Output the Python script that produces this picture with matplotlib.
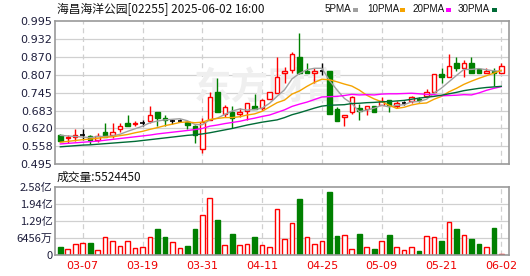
import matplotlib
matplotlib.use('Agg')
import matplotlib.pyplot as plt
from matplotlib.patches import Rectangle

plt.rcParams['font.family'] = ['Noto Sans CJK SC', 'DejaVu Sans']

title = '海昌海洋公园[02255] 2025-06-02 16:00'
dates = ['03-04', '03-05', '03-06', '03-07', '03-10', '03-11', '03-12', '03-13', '03-14',
         '03-17', '03-18', '03-19', '03-20', '03-21', '03-24', '03-25', '03-26', '03-27', '03-28',
         '03-31', '04-01', '04-02', '04-03', '04-07', '04-08', '04-09', '04-10', '04-11',
         '04-14', '04-15', '04-16', '04-17', '04-22', '04-23', '04-24', '04-25',
         '04-28', '04-29', '04-30', '05-02', '05-06', '05-07', '05-08', '05-09',
         '05-12', '05-13', '05-14', '05-15', '05-16', '05-19', '05-20', '05-21', '05-22', '05-23',
         '05-26', '05-27', '05-28', '05-29', '05-30', '06-02']
shown_dates = ['03-07', '03-19', '03-31', '04-11', '04-25', '05-09', '05-21', '06-02']

opens = [0.597, 0.588, 0.589, 0.596, 0.594, 0.580, 0.607, 0.597, 0.619, 0.638,
         0.637, 0.638, 0.647, 0.677, 0.657, 0.647, 0.647, 0.643, 0.629, 0.547,
         0.650, 0.748, 0.669, 0.676, 0.669, 0.682, 0.698, 0.690, 0.722, 0.745,
         0.813, 0.824, 0.870, 0.822, 0.813, 0.822, 0.822, 0.687, 0.659, 0.679,
         0.690, 0.689, 0.698, 0.701, 0.719, 0.698, 0.708, 0.716, 0.723, 0.733,
         0.748, 0.810, 0.801, 0.847, 0.832, 0.847, 0.826, 0.813, 0.822, 0.813]
highs = [0.599, 0.597, 0.617, 0.617, 0.596, 0.605, 0.638, 0.638, 0.640, 0.666,
         0.646, 0.649, 0.698, 0.677, 0.667, 0.654, 0.652, 0.645, 0.632, 0.655,
         0.748, 0.795, 0.701, 0.698, 0.690, 0.710, 0.740, 0.724, 0.746, 0.870,
         0.833, 0.888, 0.954, 0.847, 0.830, 0.847, 0.822, 0.696, 0.667, 0.733,
         0.705, 0.698, 0.698, 0.731, 0.719, 0.717, 0.717, 0.733, 0.729, 0.757,
         0.809, 0.830, 0.880, 0.868, 0.859, 0.868, 0.826, 0.830, 0.830, 0.850]
lows = [0.575, 0.570, 0.577, 0.580, 0.566, 0.574, 0.589, 0.586, 0.609, 0.629,
        0.629, 0.627, 0.638, 0.629, 0.629, 0.637, 0.642, 0.619, 0.568, 0.536,
        0.650, 0.679, 0.661, 0.621, 0.661, 0.650, 0.689, 0.685, 0.722, 0.745,
        0.780, 0.813, 0.810, 0.813, 0.778, 0.807, 0.669, 0.647, 0.629, 0.669,
        0.650, 0.667, 0.679, 0.701, 0.679, 0.690, 0.701, 0.708, 0.714, 0.729,
        0.748, 0.778, 0.801, 0.822, 0.801, 0.813, 0.813, 0.813, 0.768, 0.813]
closes = [0.578, 0.590, 0.597, 0.596, 0.581, 0.594, 0.591, 0.607, 0.629, 0.629,
          0.639, 0.638, 0.666, 0.658, 0.650, 0.647, 0.647, 0.631, 0.597, 0.644,
          0.729, 0.679, 0.696, 0.658, 0.679, 0.708, 0.689, 0.719, 0.746, 0.799,
          0.821, 0.880, 0.813, 0.813, 0.822, 0.822, 0.669, 0.647, 0.667, 0.729,
          0.681, 0.698, 0.679, 0.717, 0.702, 0.708, 0.708, 0.729, 0.721, 0.746,
          0.809, 0.801, 0.839, 0.832, 0.847, 0.813, 0.813, 0.821, 0.813, 0.839]

ma5 = [0.596, 0.594, 0.592, 0.590, 0.588, 0.592, 0.592, 0.594, 0.600, 0.610,
       0.619, 0.628, 0.640, 0.646, 0.650, 0.652, 0.654, 0.647, 0.634, 0.633,
       0.650, 0.656, 0.669, 0.681, 0.688, 0.684, 0.686, 0.691, 0.708, 0.732,
       0.755, 0.793, 0.812, 0.825, 0.830, 0.830, 0.788, 0.755, 0.725, 0.707,
       0.679, 0.684, 0.691, 0.701, 0.695, 0.701, 0.703, 0.713, 0.714, 0.722,
       0.743, 0.761, 0.783, 0.805, 0.826, 0.826, 0.829, 0.825, 0.821, 0.820]
ma10 = [0.572, 0.575, 0.578, 0.581, 0.583, 0.586, 0.589, 0.591, 0.595, 0.599,
        0.605, 0.610, 0.617, 0.623, 0.630, 0.635, 0.641, 0.643, 0.640, 0.642,
        0.651, 0.655, 0.658, 0.658, 0.661, 0.667, 0.671, 0.680, 0.695, 0.710,
        0.719, 0.740, 0.751, 0.767, 0.781, 0.792, 0.790, 0.783, 0.775, 0.768,
        0.754, 0.736, 0.723, 0.713, 0.701, 0.690, 0.694, 0.702, 0.707, 0.709,
        0.722, 0.732, 0.748, 0.760, 0.774, 0.785, 0.795, 0.804, 0.813, 0.823]
ma20 = [0.566, 0.568, 0.570, 0.572, 0.574, 0.576, 0.579, 0.582, 0.585, 0.588,
        0.591, 0.594, 0.597, 0.601, 0.604, 0.607, 0.610, 0.613, 0.616, 0.620,
        0.628, 0.632, 0.637, 0.641, 0.645, 0.651, 0.656, 0.662, 0.667, 0.676,
        0.685, 0.697, 0.705, 0.712, 0.721, 0.730, 0.731, 0.732, 0.735, 0.739,
        0.737, 0.738, 0.737, 0.740, 0.741, 0.741, 0.742, 0.743, 0.741, 0.739,
        0.738, 0.734, 0.735, 0.736, 0.738, 0.737, 0.744, 0.753, 0.760, 0.766]
ma30 = [0.556, 0.558, 0.560, 0.562, 0.563, 0.565, 0.567, 0.569, 0.571, 0.573,
        0.575, 0.578, 0.581, 0.584, 0.587, 0.590, 0.593, 0.596, 0.598, 0.601,
        0.605, 0.610, 0.615, 0.620, 0.626, 0.632, 0.637, 0.642, 0.646, 0.650,
        0.658, 0.668, 0.675, 0.683, 0.691, 0.698, 0.701, 0.702, 0.703, 0.707,
        0.708, 0.710, 0.711, 0.713, 0.714, 0.716, 0.718, 0.722, 0.726, 0.729,
        0.732, 0.736, 0.741, 0.746, 0.752, 0.756, 0.760, 0.763, 0.765, 0.767]

volumes = [33e6, 22e6, 41e6, 45e6, 48e6, 19e6, 70e6, 55e6, 34e6, 55e6,
           26e6, 30e6, 67e6, 100e6, 70e6, 49e6, 26e6, 34e6, 100e6, 150e6,
           215e6, 131e6, 37e6, 79e6, 37e6, 41e6, 67e6, 37e6, 33e6, 175e6,
           60e6, 122e6, 212e6, 70e6, 44e6, 52e6, 239e6, 72e6, 78e6, 22e6,
           79e6, 30e6, 23e6, 52e6, 75e6, 30e6, 19e6, 33e6, 16e6, 74e6,
           67e6, 53e6, 126e6, 97e6, 78e6, 60e6, 42e6, 33e6, 104e6, 5524450]
vol_up = [0, 1, 1, 1, 0, 1, 1, 1, 1, 1, 1, 1, 1, 0, 0, 1, 1, 0, 0, 1,
          1, 0, 1, 0, 1, 1, 0, 1, 1, 1, 1, 1, 0, 1, 1, 1, 0, 0, 1, 1,
          0, 1, 0, 1, 0, 1, 1, 1, 0, 1, 1, 0, 1, 0, 1, 0, 0, 1, 0, 1]

price_ticks = [0.495, 0.5575, 0.62, 0.6825, 0.745, 0.8075, 0.87, 0.9325, 0.995]
price_labels = ['0.495', '0.558', '0.620', '0.683', '0.745', '0.807', '0.870', '0.932', '0.995']
vol_ticks = [0, 64.56e6, 129.12e6, 193.68e6, 258.24e6]
vol_labels = ['0', '6456万', '1.29亿', '1.94亿', '2.58亿']
ma_names = ['5PMA', '10PMA', '20PMA', '30PMA']
vol_text = '成交量:5524450'

RED = '#ff0000'
GREEN = '#008000'
MA_COLORS = ['#a0a0a0', '#f5a300', '#ff00ff', '#006b36']
FRAME = '#999999'
GRID = '#d0d0d0'
TXT = '#1e1e3c'

W, H = 530, 276
fig = plt.figure(figsize=(W / 100, H / 100), dpi=100)
fig.patch.set_facecolor('white')

def fx(px):
    return px / W

def fy(py):
    return 1 - py / H

ax = fig.add_axes([fx(55.3), fy(164.3), fx(509) - fx(55.3), fy(21) - fy(164.3)])
axv = fig.add_axes([fx(55.3), fy(255.3), fx(509) - fx(55.3), fy(186.5) - fy(255.3)])

xs = list(range(len(dates)))
xt = [dates.index(d) for d in shown_dates]

for a in (ax, axv):
    a.set_xlim(-0.67, 60.03)
    for s in a.spines.values():
        s.set_color(FRAME)
        s.set_linewidth(1.2)
    a.tick_params(length=0, pad=2)
    a.set_xticks(xt)
    for x in xt:
        a.axvline(x, color=GRID, lw=0.9, ls=(0, (4, 3)), zorder=0)

# price axis
ax.set_ylim(0.495, 0.995)
ax.set_yticks(price_ticks)
ax.set_yticklabels(price_labels, fontsize=8, color=TXT, family=['DejaVu Sans'])
ax.set_xticklabels([])
for t in price_ticks[1:-1]:
    ax.axhline(t, color=GRID, lw=0.9, zorder=0)

ax.text(0.47, 0.53, '东方财富', transform=ax.transAxes, fontsize=27, color='#efefef',
        ha='center', va='center', fontweight='bold', style='italic', zorder=0)

bw = 0.6
for i in xs:
    o, h, l, c = opens[i], highs[i], lows[i], closes[i]
    if c > o:
        col, fc = RED, 'white'
    elif c < o:
        col, fc = GREEN, GREEN
    else:
        col, fc = 'black', 'black'
    ax.vlines(i, l, h, color=col, lw=1.0, zorder=2)
    if c == o:
        ax.hlines(c, i - bw / 2, i + bw / 2, color=col, lw=1.2, zorder=3)
    else:
        ax.add_patch(Rectangle((i - bw / 2, min(o, c)), bw, abs(c - o),
                               facecolor=fc, edgecolor=col, lw=1.0, zorder=3))

for ma, col in zip([ma5, ma10, ma20, ma30], MA_COLORS):
    ax.plot(xs, ma, color=col, lw=1.0, zorder=4)

# volume axis
axv.set_ylim(0, 258.24e6)
axv.set_yticks(vol_ticks)
axv.set_yticklabels(vol_labels, fontsize=8, color=TXT)
axv.set_xticklabels(shown_dates, fontsize=8, color='#ee0000', family=['DejaVu Sans'])
axv.tick_params(axis='x', pad=4)
for t in vol_ticks[1:-1]:
    axv.axhline(t, color=GRID, lw=0.9, zorder=0)
for i in xs:
    if vol_up[i]:
        axv.bar(i, volumes[i], width=0.62, facecolor='white', edgecolor=RED, lw=1.0, zorder=2)
    else:
        axv.bar(i, volumes[i], width=0.62, facecolor=GREEN, edgecolor=GREEN, lw=1.0, zorder=2)

# header texts
fig.text(fx(57), fy(9.5), title, fontsize=8.5, color='#111111', va='center', ha='left')
fig.text(fx(57), fy(177), vol_text, fontsize=8.5, color='#111111', va='center', ha='left')

legend_x = [325, 367, 412.5, 458]
square_x = [352.5, 399.5, 445.5, 491.5]
for name, lx, sx, col in zip(ma_names, legend_x, square_x, MA_COLORS):
    fig.text(fx(lx), fy(9.5), name, fontsize=7.1, color='#111111', va='center', ha='left',
             family=['Liberation Sans'])
    fig.patches.append(Rectangle((fx(sx), fy(11.5)), 5 / W, 4 / H, transform=fig.transFigure,
                                 facecolor=col, edgecolor='none'))

fig.savefig('out.png', dpi=100, facecolor='white')
